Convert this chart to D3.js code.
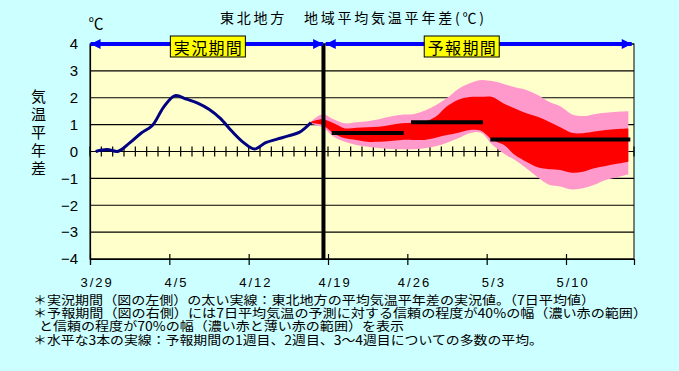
<!DOCTYPE html>
<html><head><meta charset="utf-8">
<script src="https://cdn.jsdelivr.net/npm/d3@7"></script>
<style>
html,body{margin:0;padding:0;background:#ccffff;}
svg{display:block;}
</style></head>
<body>
<svg id="c" width="679" height="371"></svg>
<script>
// ---- data ----
const totalDays = 48;
const dateLabels = ["3/29", "4/5", "4/12", "4/19", "4/26", "5/3", "5/10"];
const yTicks = [-4, -3, -2, -1, 0, 1, 2, 3, 4];
// observed 7-day mean anomaly, one value per day from 3/29
const observed = [0.0, 0.07, 0.01, 0.32, 0.68, 0.97, 1.65, 2.08, 1.95, 1.8,
  1.57, 1.23, 0.76, 0.35, 0.09, 0.33, 0.46, 0.58, 0.72, 1.08];
// forecast bands, one value per day starting at the last observed day
const forecastStart = 19;
const band70Upper = [1.12, 1.39, 1.2, 1.05, 1.09, 1.13, 1.2, 1.3, 1.37, 1.39, 1.52, 1.72, 1.99, 2.33, 2.54,
  2.66, 2.62, 2.51, 2.39, 2.29, 2.1, 1.85, 1.68, 1.39, 1.32, 1.39, 1.44, 1.48, 1.5];
const band40Upper = [1.1, 1.2, 1.05, 0.86, 0.88, 0.9, 0.92, 0.99, 1.05, 1.07, 1.11, 1.29, 1.68, 1.93, 2.03,
  2.04, 2.03, 1.79, 1.6, 1.42, 1.29, 1.11, 0.9, 0.7, 0.68, 0.74, 0.8, 0.84, 0.86];
const band40Lower = [1.05, 0.99, 0.68, 0.49, 0.43, 0.36, 0.36, 0.39, 0.43, 0.43, 0.43, 0.51, 0.61, 0.7, 0.8,
  0.77, 0.43, 0.25, -0.13, -0.38, -0.59, -0.66, -0.69, -0.79, -0.75, -0.62, -0.54, -0.46, -0.38];
const band70Lower = [1.02, 0.9, 0.55, 0.36, 0.24, 0.18, 0.13, 0.09, 0.08, 0.08, 0.12, 0.2, 0.33, 0.49, 0.68,
  0.7, 0.25, -0.07, -0.32, -0.62, -0.96, -1.24, -1.3, -1.41, -1.37, -1.24, -1.06, -0.96, -0.86];
// ensemble means: first day index, last day index, value
const weekMeanStart = [21, 28, 35];
const weekMeanEnd = [27, 34, 47];
const weekMeanValue = [0.69, 1.09, 0.45];
const boundaryDay = 20.6;
const periodNames = ["実況期間", "予報期間"];
const titleText = "東北地方　地域平均気温平年差(℃)";
const yTitle = ["気", "温", "平", "年", "差"];
const notes = [
  "＊実況期間（図の左側）の太い実線：東北地方の平均気温平年差の実況値。（7日平均値）",
  "＊予報期間（図の右側）には7日平均気温の予測に対する信頼の程度が40%の幅（濃い赤の範囲）",
  "と信頼の程度が70%の幅（濃い赤と薄い赤の範囲）を表示",
  "＊水平な3本の実線：予報期間の1週目、2週目、3〜4週目についての多数の平均。"
];

// ---- layout ----
const svg = d3.select("#c");
const L = 90, R = 634, T = 44, B = 259;
const x = d3.scaleLinear().domain([0, totalDays]).range([L, R]);
const y = d3.scaleLinear().domain([-4, 4]).range([B, T]);
const cx = i => x(i + 0.5); // day centre
const JP = "'Noto Sans CJK JP','Noto Sans',sans-serif";

svg.append("rect").attr("width", 679).attr("height", 371).attr("fill", "#ccffff");
svg.append("rect").attr("x", L).attr("y", T).attr("width", R - L).attr("height", B - T)
  .attr("fill", "#ffffcc").attr("stroke", "#000").attr("stroke-width", 1);

// grid
svg.append("g").selectAll("line").data(yTicks).join("line")
  .attr("x1", L).attr("x2", R).attr("y1", d => y(d)).attr("y2", d => y(d))
  .attr("stroke", "#000").attr("stroke-width", 1.2);

// daily ticks on 0 line
svg.append("g").selectAll("line").data(d3.range(0, totalDays + 1)).join("line")
  .attr("x1", d => x(d)).attr("x2", d => x(d)).attr("y1", y(0) - 5).attr("y2", y(0) + 5)
  .attr("stroke", "#000").attr("stroke-width", 1.2);

// bands
const bandData = band70Upper.map((v, i) => ({
  d: forecastStart + i, u70: v, u40: band40Upper[i], l40: band40Lower[i], l70: band70Lower[i]
}));
const curve = d3.curveCatmullRom.alpha(0.5);
svg.append("path").datum(bandData)
  .attr("d", d3.area().x(p => cx(p.d)).y0(p => y(p.l70)).y1(p => y(p.u70)).curve(curve))
  .attr("fill", "#ff99cc");
svg.append("path").datum(bandData)
  .attr("d", d3.area().x(p => cx(p.d)).y0(p => y(p.l40)).y1(p => y(p.u40)).curve(curve))
  .attr("fill", "#ff0000");

// observed line
svg.append("path").datum(observed)
  .attr("d", d3.line().x((v, i) => cx(i)).y(v => y(v)).curve(curve))
  .attr("fill", "none").attr("stroke", "#000080").attr("stroke-width", 3);

// week means
svg.append("g").selectAll("line").data(weekMeanValue).join("line")
  .attr("x1", (v, i) => cx(weekMeanStart[i])).attr("x2", (v, i) => cx(weekMeanEnd[i]))
  .attr("y1", v => y(v)).attr("y2", v => y(v))
  .attr("stroke", "#000").attr("stroke-width", 4).attr("stroke-linecap", "square");

// boundary
svg.append("line").attr("x1", x(boundaryDay)).attr("x2", x(boundaryDay))
  .attr("y1", T).attr("y2", B).attr("stroke", "#000").attr("stroke-width", 4);

// x axis
const xAxis = d3.axisBottom(x).tickValues(dateLabels.map((s, i) => i * 7))
  .tickFormat((d, i) => dateLabels[i]).tickSizeOuter(0).tickSize(6);
const gx = svg.append("g").attr("transform", `translate(0,${B})`).call(xAxis);
gx.select(".domain").attr("stroke", "#000").attr("stroke-width", 1.2);
gx.selectAll(".tick line").attr("y1", -5).attr("y2", 6).attr("stroke-width", 1.2);
gx.selectAll(".tick text").attr("dx", x(0.5) - x(0) + 1).attr("y", 23).attr("dy", "0.35em")
  .attr("font-family", "'Liberation Sans',Arial,sans-serif").attr("font-size", 13)
  .attr("letter-spacing", "2px").attr("fill", "#000");

// y axis
const yAxis = d3.axisLeft(y).tickValues(yTicks).tickSize(0).tickPadding(12)
  .tickFormat(d => d < 0 ? "\u2212" + Math.abs(d) : String(d));
const gy = svg.append("g").attr("transform", `translate(${L},0)`).call(yAxis);
gy.select(".domain").attr("stroke", "#000").attr("stroke-width", 1.2);
gy.selectAll(".tick text").attr("font-family", "'Liberation Sans',Arial,sans-serif")
  .attr("font-size", 15).attr("fill", "#000");

// arrows
const defs = svg.append("defs");
defs.append("marker").attr("id", "ah").attr("viewBox", "0 0 10 10").attr("refX", 10).attr("refY", 5)
  .attr("markerUnits", "userSpaceOnUse").attr("markerWidth", 11).attr("markerHeight", 10)
  .attr("orient", "auto-start-reverse")
  .append("path").attr("d", "M0,0L10,5L0,10Z").attr("fill", "#0000ff");
const arrows = [[0.05, boundaryDay - 0.03], [boundaryDay + 0.2, totalDays - 0.2]];
svg.append("g").selectAll("line").data(arrows).join("line")
  .attr("x1", d => x(d[0])).attr("x2", d => x(d[1])).attr("y1", y(4)).attr("y2", y(4))
  .attr("stroke", "#0000ff").attr("stroke-width", 4)
  .attr("marker-start", "url(#ah)").attr("marker-end", "url(#ah)");

// period labels
const labelCentres = [10.4, 32.8];
periodNames.forEach((name, i) => {
  const g = svg.append("g").attr("transform", `translate(${x(labelCentres[i])},${y(4) + 2.5})`);
  g.append("rect").attr("x", -37.5).attr("y", -10.5).attr("width", 75).attr("height", 21)
    .attr("fill", "#ffff00").attr("stroke", "#000").attr("stroke-width", 1);
  g.append("text").attr("text-anchor", "middle").attr("dominant-baseline", "central")
    .attr("y", 0.5).attr("font-family", JP).attr("font-size", 16)
    .attr("textLength", 68).attr("lengthAdjust", "spacing").text(name);
});

// title
svg.append("text").attr("x", 220).attr("y", 16.5).attr("dominant-baseline", "central")
  .attr("font-family", JP).attr("font-size", 14).attr("textLength", 264)
  .attr("lengthAdjust", "spacing").attr("fill", "#000").text(titleText);

// unit
svg.append("text").attr("x", 96).attr("y", 22.5).attr("text-anchor", "middle")
  .attr("dominant-baseline", "central").attr("font-family", JP).attr("font-size", 15).text("℃");

// y title
svg.append("g").selectAll("text").data(yTitle).join("text")
  .attr("x", 38.5).attr("y", (d, i) => 95 + i * 18).attr("text-anchor", "middle")
  .attr("dominant-baseline", "central").attr("font-family", JP).attr("font-size", 15).text(d => d);

// notes
const noteX = [33, 33, 39, 33];
const noteW = [562, 614, 365, 510];
svg.append("g").selectAll("text").data(notes).join("text")
  .attr("x", (d, i) => noteX[i]).attr("y", (d, i) => 299 + i * 13.4)
  .attr("dominant-baseline", "central").attr("font-family", JP).attr("font-size", 12.5)
  .attr("textLength", (d, i) => noteW[i]).attr("lengthAdjust", "spacingAndGlyphs").text(d => d);
</script>
</body></html>
